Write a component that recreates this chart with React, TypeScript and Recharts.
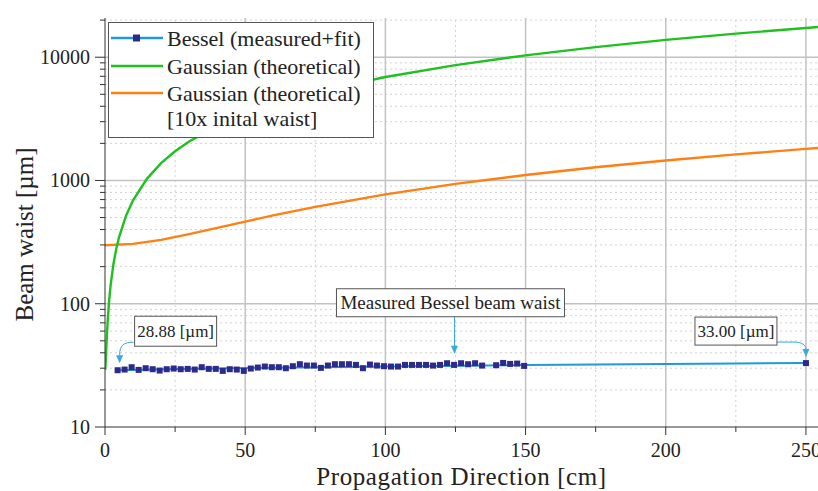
import React from 'react';
import {
  ComposedChart,
  Line,
  Scatter,
  XAxis,
  YAxis,
  ReferenceLine,
  ReferenceDot,
  Legend,
} from 'recharts';

const FONT = "'Liberation Serif', 'DejaVu Serif', 'Noto Serif', 'Times New Roman', Times, serif";

// Gaussian (theoretical) beam
const gaussZ = [0, 0.1, 0.2, 0.3, 0.5, 0.75, 1, 1.5, 2, 3, 4, 5, 7.5, 10, 15, 20, 25, 30, 40, 50, 60, 75, 100, 125, 150, 175, 200, 225, 250, 254.3];
const gaussW = [29, 29.8, 32.1, 35.6, 45.1, 59.4, 74.9, 107.6, 141.1, 209.1, 277.7, 345.9, 518.3, 690.5, 1036, 1381, 1726, 2071, 2762, 3452, 4143, 5179, 6905, 8631, 10357, 12083, 13810, 15536, 17262, 17559];

// Gaussian (theoretical) [10x initial waist]
const gauss10Z = [0, 10, 20, 30, 40, 50, 60, 75, 100, 125, 150, 175, 200, 225, 250, 254.3];
const gauss10W = [298, 306, 330, 367, 412, 464, 521, 611, 771, 938, 1108, 1280, 1453, 1628, 1803, 1833];

// Bessel fit
const fitZ = [4.5, 25, 50, 75, 100, 125, 150, 175, 200, 225, 250];
const fitW = [28.9, 29.5, 30.1, 30.6, 31.0, 31.4, 31.8, 32.1, 32.45, 32.75, 33.0];

// Bessel measured
const measZ = [4.5, 7, 9.5, 12, 14.5, 17, 19.5, 22, 24.5, 27, 29.5, 32, 34.5, 37, 39.5, 42, 44.5, 47, 49.5, 52, 54.5, 57, 59.5, 62, 64.5, 67, 69.5, 72, 74.5, 77, 79.5, 82, 84.5, 87, 89.5, 92, 94.5, 97, 99.5, 102, 104.5, 107, 109.5, 112, 114.5, 117, 119.5, 122, 124.5, 127, 129.5, 132, 134.5, 139.5, 142, 144.5, 147, 149.5, 250];
const measW = [28.88, 29.24, 30.55, 29.06, 29.98, 29.43, 28.7, 29.43, 29.8, 29.43, 29.61, 29.24, 30.55, 29.61, 29.61, 28.52, 29.43, 29.24, 28.52, 29.8, 30.36, 30.93, 30.55, 30.55, 29.98, 31.13, 32.31, 31.52, 31.52, 30.17, 31.52, 32.31, 32.31, 32.31, 31.91, 29.98, 32.11, 31.52, 31.13, 30.93, 30.93, 31.9, 31.9, 31.9, 31.9, 31.5, 31.9, 32.9, 31.9, 32.9, 32.3, 32.9, 31.5, 31.7, 33.1, 32.5, 32.7, 31.3, 33.0];

const xMajor = [0, 50, 100, 150, 200, 250];
const xMinor = [25, 75, 125, 175, 225];
const yMajor = [10, 100, 1000, 10000];
const yMinor = [20, 30, 40, 50, 60, 70, 80, 90, 200, 300, 400, 500, 600, 700, 800, 900, 2000, 3000, 4000, 5000, 6000, 7000, 8000, 9000, 20000];

const xTicksAll = [...xMajor, ...xMinor].sort((a, b) => a - b);
const yTicksAll = [...yMajor, ...yMinor].sort((a, b) => a - b);

const legendLabels = ['Bessel (measured+fit)', 'Gaussian (theoretical)', 'Gaussian (theoretical)', '[10x inital waist]'];
const annFirst = '28.88 [µm]';
const annMid = 'Measured Bessel beam waist';
const annLast = '33.00 [µm]';
const xTitle = 'Propagation Direction [cm]';
const yTitle = 'Beam waist [µm]';

const C_GREEN = '#1fc11f';
const C_ORANGE = '#ff7f12';
const C_BLUE = '#1c9bd8';
const C_MARK = '#2c2a8c';
const C_ARROW = '#3aa9dc';
const C_AXIS = '#333';

const rows = (zs: number[], ws: number[]) => zs.map((z, i) => ({ z, w: ws[i] }));
const gaussData = rows(gaussZ, gaussW);
const gauss10Data = rows(gauss10Z, gauss10W);
const fitData = rows(fitZ, fitW);
const measData = rows(measZ, measW);

const YTick = (props: any) => {
  const { x, y, payload } = props;
  const major = yMajor.includes(payload.value);
  return (
    <g>
      <line x1={x - (major ? 10 : 5)} x2={x} y1={y} y2={y} stroke={C_AXIS} strokeWidth={1} />
      {major && (
        <text x={x - 15} y={y} dy={7} textAnchor="end" style={{ fontFamily: FONT }} fontSize={20} fill="#222">
          {payload.value}
        </text>
      )}
    </g>
  );
};

const XTick = (props: any) => {
  const { x, y, payload } = props;
  const major = xMajor.includes(payload.value);
  return (
    <g>
      <line x1={x} x2={x} y1={y} y2={y + (major ? 8 : 5)} stroke={C_AXIS} strokeWidth={1} />
      {major && (
        <text x={x} y={y + 30} textAnchor="middle" style={{ fontFamily: FONT }} fontSize={20} fill="#222">
          {payload.value}
        </text>
      )}
    </g>
  );
};

const TopTick = (props: any) => {
  const { x, y, payload } = props;
  const major = xMajor.includes(payload.value);
  return <line x1={x} x2={x} y1={y} y2={y + (major ? 8 : 5)} stroke={C_AXIS} strokeWidth={1} />;
};

const XTitle = (props: any) => {
  const vb = props.viewBox || {};
  return (
    <text x={vb.x + vb.width / 2} y={vb.y + 58} textAnchor="middle" style={{ fontFamily: FONT }} fontSize={25} letterSpacing={0.6} fill="#222">
      {xTitle}
    </text>
  );
};

const YTitle = (props: any) => {
  const vb = props.viewBox || {};
  const cx = 33;
  const cy = vb.y + vb.height / 2 + 12;
  return (
    <text x={cx} y={cy} transform={`rotate(-90 ${cx} ${cy})`} textAnchor="middle" style={{ fontFamily: FONT }} fontSize={25} fill="#222">
      {yTitle}
    </text>
  );
};

const Square = (props: any) => {
  const { cx, cy } = props;
  if (cx == null || cy == null) return null;
  return <rect x={cx - 3} y={cy - 3} width={6} height={6} fill={C_MARK} />;
};

const Head = ({ x, y }: { x: number; y: number }) => (
  <polygon points={`${x},${y} ${x - 3.5},${y - 8} ${x + 3.5},${y - 8}`} fill={C_ARROW} />
);

const Box = ({ x, y, w, h, text, fs }: { x: number; y: number; w: number; h: number; text: string; fs: number }) => (
  <g>
    <rect x={x} y={y} width={w} height={h} fill="#fff" stroke="#555" strokeWidth={1} />
    <text x={x + w / 2} y={y + h / 2} dy={fs * 0.34} textAnchor="middle" style={{ fontFamily: FONT }} fontSize={fs} fill="#222">
      {text}
    </text>
  </g>
);

const AnnFirst = (props: any) => {
  const { cx, cy } = props;
  return (
    <g>
      <path d={`M${cx + 16},${cy - 28} C${cx + 6},${cy - 28} ${cx + 2},${cy - 25} ${cx + 2},${cy - 15}`} fill="none" stroke={C_ARROW} strokeWidth={1} />
      <Head x={cx + 2} y={cy - 7} />
      <Box x={cx + 17} y={cy - 54} w={82} h={30} text={annFirst} fs={17} />
    </g>
  );
};

const AnnMid = (props: any) => {
  const { cx, cy } = props;
  return (
    <g>
      <line x1={cx - 1} x2={cx - 1} y1={cy - 49} y2={cy - 19} stroke={C_ARROW} strokeWidth={1} />
      <Head x={cx - 1} y={cy - 12} />
      <Box x={cx - 119} y={cy - 77} w={228} h={28} text={annMid} fs={19} />
    </g>
  );
};

const AnnLast = (props: any) => {
  const { cx, cy } = props;
  return (
    <g>
      <path d={`M${cx - 29},${cy - 21} L${cx - 12},${cy - 21} C${cx - 4},${cy - 21} ${cx},${cy - 18} ${cx},${cy - 14}`} fill="none" stroke={C_ARROW} strokeWidth={1} />
      <Head x={cx} y={cy - 6} />
      <Box x={cx - 111} y={cy - 46} w={82} h={28} text={annLast} fs={17} />
    </g>
  );
};

const LegendBox = () => {
  const centers = [15.5, 43.5, 70.5, 95.5];
  const sample = (i: number) => {
    if (i === 0)
      return (
        <svg width={52} height={12}>
          <line x1={0} x2={52} y1={6} y2={6} stroke={C_BLUE} strokeWidth={2.4} />
          <rect x={22} y={2.5} width={7} height={7} fill={C_MARK} />
        </svg>
      );
    if (i === 1)
      return (
        <svg width={52} height={12}>
          <line x1={0} x2={52} y1={6} y2={6} stroke={C_GREEN} strokeWidth={2.4} />
        </svg>
      );
    if (i === 2)
      return (
        <svg width={52} height={12}>
          <line x1={0} x2={52} y1={6} y2={6} stroke={C_ORANGE} strokeWidth={2.4} />
        </svg>
      );
    return null;
  };
  return (
    <div
      style={{
        position: 'relative',
        width: 266,
        height: 116,
        border: '1px solid #555',
        background: '#fff',
        boxSizing: 'border-box',
        fontFamily: FONT,
        fontSize: 22,
        color: '#222',
      }}
    >
      {legendLabels.map((label, i) => (
        <React.Fragment key={i}>
          <div style={{ position: 'absolute', left: 2, top: centers[i] - 7, width: 52, height: 12, lineHeight: 0 }}>{sample(i)}</div>
          <div style={{ position: 'absolute', left: 58, top: centers[i] - 13, height: 26, lineHeight: '26px', whiteSpace: 'nowrap' }}>{label}</div>
        </React.Fragment>
      ))}
    </div>
  );
};

export default function App() {
  return (
    <div style={{ position: 'absolute', left: 0, top: 0, width: 818, height: 491, background: '#fff', fontFamily: FONT }}>
      <ComposedChart width={818} height={491} margin={{ top: 18, right: 0, bottom: 0, left: 0 }}>
        <XAxis
          dataKey="z"
          type="number"
          domain={[0, 254.3]}
          allowDataOverflow
          ticks={xTicksAll}
          interval={0}
          tickSize={0}
          tickMargin={0}
          tickLine={false}
          axisLine={{ stroke: C_AXIS, strokeWidth: 1 }}
          height={64}
          tick={<XTick />}
          label={<XTitle />}
        />
        <XAxis
          xAxisId="top"
          orientation="top"
          dataKey="z"
          type="number"
          domain={[0, 254.3]}
          allowDataOverflow
          ticks={xTicksAll}
          interval={0}
          tickSize={0}
          tickMargin={0}
          tickLine={false}
          axisLine={{ stroke: C_AXIS, strokeWidth: 1 }}
          height={0}
          tick={<TopTick />}
        />
        <YAxis
          dataKey="w"
          type="number"
          scale="log"
          domain={[10, 20800]}
          allowDataOverflow
          ticks={yTicksAll}
          interval={0}
          tickSize={0}
          tickMargin={0}
          tickLine={false}
          axisLine={{ stroke: C_AXIS, strokeWidth: 1 }}
          width={105}
          tick={<YTick />}
          label={<YTitle />}
        />
        {yMinor.map((v) => (
          <ReferenceLine key={`ym${v}`} y={v} stroke="#d2d2d2" strokeWidth={1} strokeDasharray="2 3" />
        ))}
        {xMinor.map((v) => (
          <ReferenceLine key={`xm${v}`} x={v} stroke="#d2d2d2" strokeWidth={1} strokeDasharray="2 3" />
        ))}
        {yMajor.slice(1).map((v) => (
          <ReferenceLine key={`yM${v}`} y={v} stroke="#c2c2c2" strokeWidth={1.5} />
        ))}
        {xMajor.slice(1).map((v) => (
          <ReferenceLine key={`xM${v}`} x={v} stroke="#c2c2c2" strokeWidth={1.5} />
        ))}
        <Line data={gauss10Data} dataKey="w" type="linear" stroke={C_ORANGE} strokeWidth={2.4} dot={false} isAnimationActive={false} />
        <Line data={gaussData} dataKey="w" type="linear" stroke={C_GREEN} strokeWidth={2.4} dot={false} isAnimationActive={false} />
        <Line data={fitData} dataKey="w" type="linear" stroke={C_BLUE} strokeWidth={2} dot={false} isAnimationActive={false} />
        <Scatter data={measData} dataKey="w" fill={C_MARK} shape={<Square />} isAnimationActive={false} />
        <ReferenceDot x={measZ[0]} y={measW[0]} r={0} ifOverflow="visible" shape={(p: any) => <AnnFirst {...p} />} />
        <ReferenceDot x={125} y={31.4} r={0} ifOverflow="visible" shape={(p: any) => <AnnMid {...p} />} />
        <ReferenceDot x={250} y={33.0} r={0} ifOverflow="visible" shape={(p: any) => <AnnLast {...p} />} />
        <Legend
          layout="vertical"
          align="center"
          verticalAlign="middle"
          wrapperStyle={{ position: 'absolute', left: 108, top: 22, width: 266, height: 116 }}
          content={<LegendBox />}
        />
      </ComposedChart>
    </div>
  );
}
